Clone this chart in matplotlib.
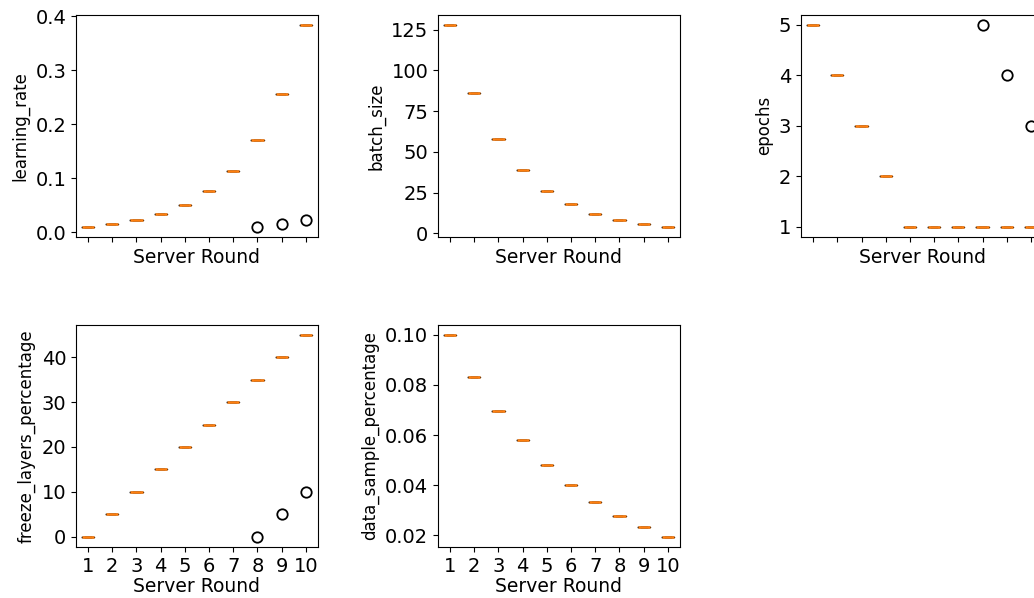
import matplotlib
matplotlib.use("Agg")
import matplotlib.pyplot as plt
from matplotlib.ticker import MultipleLocator

rounds = [1, 2, 3, 4, 5, 6, 7, 8, 9, 10]
n_clients = 5

# value used by most clients in each round
learning_rate = [0.010, 0.015, 0.0225, 0.0338, 0.0506, 0.0759, 0.1139, 0.1709, 0.2563, 0.3844]
batch_size = [128, 86, 58, 39, 26, 18, 12, 8, 6, 4]
epochs = [5, 4, 3, 2, 1, 1, 1, 1, 1, 1]
freeze_layers_percentage = [0, 5, 10, 15, 20, 25, 30, 35, 40, 45]
data_sample_percentage = [0.100, 0.0833, 0.0694, 0.0579, 0.0482, 0.0402, 0.0335, 0.0279, 0.0233, 0.0194]

# one client lagging behind in rounds 8, 9, 10
outlier_rounds = [8, 9, 10]
lr_outliers = [0.010, 0.015, 0.0225]
bs_outliers = [None, None, None]
ep_outliers = [5, 4, 3]
fl_outliers = [0, 5, 10]
ds_outliers = [None, None, None]

# y tick step for each panel
y_steps = [0.1, 25, 1, 10, 0.02]

params = [
    ("learning_rate", learning_rate, lr_outliers),
    ("batch_size", batch_size, bs_outliers),
    ("epochs", epochs, ep_outliers),
    ("freeze_layers_percentage", freeze_layers_percentage, fl_outliers),
    ("data_sample_percentage", data_sample_percentage, ds_outliers),
]

def client_values(main, outliers):
    data = []
    for r, v in zip(rounds, main):
        vals = [v] * n_clients
        if r in outlier_rounds:
            o = outliers[outlier_rounds.index(r)]
            if o is not None:
                vals[-1] = o
        data.append(vals)
    return data

plt.rcParams['font.size'] = 14

fig = plt.figure(figsize=(10.34, 5.98), dpi=100)

lefts = [0.0735, 0.4236, 0.7747]
bottoms = [0.6037, 0.0853]
w, h = 0.234, 0.372

for i, (name, main, outs) in enumerate(params):
    row, col = divmod(i, 3)
    ax = fig.add_axes([lefts[col], bottoms[row], w, h])
    ax.boxplot(client_values(main, outs), positions=rounds,
               medianprops=dict(linewidth=1.8),
               flierprops=dict(markersize=7.5, markeredgewidth=1.3))
    ax.yaxis.set_major_locator(MultipleLocator(y_steps[i]))
    ax.set_ylabel(name, fontsize=12)
    ax.set_xlabel("Server Round", fontsize=13.5, labelpad=1)
    if row == 0:
        ax.set_xticklabels([])

fig.savefig("out.png", dpi=100)
